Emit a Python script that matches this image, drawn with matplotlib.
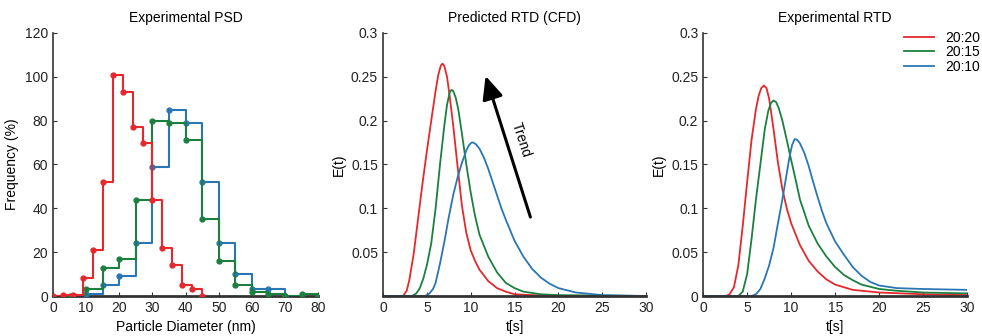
import matplotlib.pyplot as plt

plt.rcParams['font.family'] = ['Liberation Sans', 'DejaVu Sans']
plt.rcParams['font.size'] = 10

red = '#e5282c'
green = '#1b803f'
blue = '#2a76b3'

# Experimental PSD (step data, left edges)
psd_red_x = [0, 3, 6, 9, 12, 15, 18, 21, 24, 27, 30, 33, 36, 39, 42, 45]
psd_red_y = [0, 0.5, 0.5, 8, 21, 52, 101, 93, 77, 70, 44, 22, 14, 5, 3, 0]
psd_green_x = [5, 10, 15, 20, 25, 30, 35, 40, 45, 50, 55, 60, 65, 70, 75, 80]
psd_green_y = [0, 3, 13, 17, 44, 80, 79, 71, 35, 16, 5, 2, 1, 0, 1, 0]
psd_blue_x = [10, 15, 20, 25, 30, 35, 40, 45, 50, 55, 60, 65, 70]
psd_blue_y = [1, 5, 9, 24, 59, 85, 79, 52, 24, 10, 3, 3, 0]

# Predicted RTD (CFD)
cfd_red_t = [0, 2.3, 2.7, 3, 3.5, 4, 4.5, 5, 5.5, 6, 6.3, 6.6, 6.8, 7, 7.3, 7.6, 8, 8.5,
             9, 9.5, 10, 10.5, 11, 12, 13, 14, 15, 17, 20, 30]
cfd_red_e = [0, 0, 0.006, 0.018, 0.048, 0.088, 0.128, 0.165, 0.2, 0.234, 0.252, 0.263,
             0.265, 0.262, 0.25, 0.228, 0.195, 0.148, 0.103, 0.072, 0.052, 0.04, 0.03,
             0.017, 0.009, 0.005, 0.002, 0.001, 0, 0]
cfd_green_t = [0, 3.3, 3.8, 4.2, 4.6, 5, 5.5, 6, 6.5, 7, 7.3, 7.6, 7.8, 8, 8.3, 8.6, 9,
               9.5, 10, 10.5, 11, 12, 13, 14, 15, 16, 18, 20, 30]
cfd_green_e = [0, 0, 0.003, 0.009, 0.02, 0.035, 0.06, 0.1, 0.15, 0.195, 0.218, 0.232,
               0.235, 0.234, 0.226, 0.212, 0.185, 0.15, 0.118, 0.091, 0.07, 0.045, 0.027,
               0.015, 0.009, 0.005, 0.002, 0.001, 0]
cfd_blue_t = [0, 4.8, 5.3, 5.7, 6, 6.5, 7, 7.5, 8, 8.5, 9, 9.5, 9.8, 10.1, 10.3, 10.6,
              11, 11.5, 12, 12.5, 13, 13.5, 14, 15, 16, 17, 18, 19, 20, 22, 25, 30]
cfd_blue_e = [0, 0, 0.003, 0.008, 0.015, 0.037, 0.062, 0.09, 0.115, 0.135, 0.152, 0.166,
              0.172, 0.175, 0.175, 0.173, 0.168, 0.158, 0.145, 0.13, 0.115, 0.1, 0.087,
              0.063, 0.045, 0.031, 0.021, 0.014, 0.009, 0.004, 0.001, 0]

# Experimental RTD
exp_red_t = [0, 2.6, 3, 3.5, 4, 4.5, 5, 5.5, 6, 6.3, 6.6, 6.9, 7.2, 7.5, 8, 8.5, 9, 9.5,
             10, 11, 12, 13, 14, 15, 17, 20, 25, 30]
exp_red_e = [0, 0, 0.002, 0.01, 0.035, 0.08, 0.13, 0.178, 0.213, 0.228, 0.237, 0.24,
             0.237, 0.225, 0.19, 0.152, 0.122, 0.1, 0.083, 0.058, 0.04, 0.028, 0.019,
             0.013, 0.007, 0.004, 0.002, 0.001]
exp_green_t = [0, 4, 4.5, 5, 5.5, 6, 6.5, 7, 7.4, 7.7, 8, 8.3, 8.6, 9, 9.5, 10, 10.5, 11,
               12, 13, 14, 15, 16, 17, 18, 20, 22, 25, 30]
exp_green_e = [0, 0, 0.005, 0.025, 0.065, 0.11, 0.15, 0.19, 0.211, 0.22, 0.223, 0.221,
               0.214, 0.2, 0.178, 0.155, 0.133, 0.11, 0.08, 0.06, 0.045, 0.033, 0.024,
               0.018, 0.013, 0.008, 0.006, 0.004, 0.003]
exp_blue_t = [0, 5.5, 6, 6.5, 7, 7.5, 8, 8.5, 9, 9.5, 9.8, 10.1, 10.4, 10.7, 11, 11.5, 12,
              12.5, 13, 13.5, 14, 15, 16, 17, 18, 19, 20, 22, 25, 30]
exp_blue_e = [0, 0, 0.002, 0.008, 0.02, 0.035, 0.055, 0.083, 0.11, 0.14, 0.158, 0.172,
              0.179, 0.178, 0.174, 0.163, 0.148, 0.13, 0.113, 0.097, 0.083, 0.062, 0.047,
              0.033, 0.023, 0.016, 0.012, 0.009, 0.008, 0.007]

labels = ['20:20', '20:15', '20:10']


def style_axes(ax):
    for s in ['top', 'right']:
        ax.spines[s].set_visible(False)
    ax.spines['left'].set_color('#333333')
    ax.spines['bottom'].set_color('#333333')
    ax.spines['left'].set_linewidth(1.2)
    ax.spines['bottom'].set_linewidth(2)
    ax.tick_params(direction='in', length=3, width=0.8, colors='#333333',
                   labelcolor='#222222', labelsize=10)


fig = plt.figure(figsize=(9.82, 3.36), dpi=100)
ax1 = fig.add_axes([0.054, 0.119, 0.270, 0.783])
ax2 = fig.add_axes([0.390, 0.119, 0.268, 0.783])
ax3 = fig.add_axes([0.716, 0.119, 0.269, 0.783])

# panel 1
for x, y, c in [(psd_blue_x, psd_blue_y, blue), (psd_green_x, psd_green_y, green),
                (psd_red_x, psd_red_y, red)]:
    ax1.step(x, y, where='post', color=c, lw=1.5, marker='o', ms=3.5, zorder=3)
ax1.set_xlim(0, 80)
ax1.set_ylim(0, 120)
ax1.set_xticks(range(0, 81, 10))
ax1.set_yticks(range(0, 121, 20))
ax1.set_title('Experimental PSD', fontsize=10, pad=8)
ax1.set_xlabel('Particle Diameter (nm)', fontsize=10)
ax1.set_ylabel('Frequency (%)', fontsize=10)
style_axes(ax1)

# panel 2
for t, e, c in [(cfd_red_t, cfd_red_e, red), (cfd_green_t, cfd_green_e, green),
                (cfd_blue_t, cfd_blue_e, blue)]:
    ax2.plot(t, e, color=c, lw=1.3)
ax2.set_xlim(0, 30)
ax2.set_ylim(0, 0.3)
ax2.set_xticks(range(0, 31, 5))
ax2.set_yticks([0.05, 0.1, 0.15, 0.2, 0.25, 0.3])
ax2.set_yticklabels(['0.05', '0.1', '0.15', '0.2', '0.25', '0.3'])
ax2.set_title('Predicted RTD (CFD)', fontsize=10, pad=8)
ax2.set_xlabel('t[s]', fontsize=10)
ax2.set_ylabel('E(t)', fontsize=10)
ax2.annotate('', xy=(11.6, 0.254), xytext=(16.9, 0.087),
             arrowprops=dict(arrowstyle='-|>,head_width=0.45,head_length=1.0',
                             color='black', lw=2.2, mutation_scale=14))
ax2.text(15.7, 0.178, 'Trend', rotation=-72, ha='center', va='center', fontsize=10)
style_axes(ax2)

# panel 3
lines = []
for t, e, c, lab in [(exp_red_t, exp_red_e, red, labels[0]),
                     (exp_green_t, exp_green_e, green, labels[1]),
                     (exp_blue_t, exp_blue_e, blue, labels[2])]:
    ln, = ax3.plot(t, e, color=c, lw=1.3, label=lab)
    lines.append(ln)
ax3.set_xlim(0, 30)
ax3.set_ylim(0, 0.3)
ax3.set_xticks(range(0, 31, 5))
ax3.set_yticks([0, 0.05, 0.1, 0.15, 0.2, 0.25, 0.3])
ax3.set_yticklabels(['0', '0.05', '0.1', '0.15', '0.2', '0.25', '0.3'])
ax3.set_title('Experimental RTD', fontsize=10, pad=8)
ax3.set_xlabel('t[s]', fontsize=10)
ax3.set_ylabel('E(t)', fontsize=10)
ax3.legend(handles=lines, loc='upper right', bbox_to_anchor=(1.07, 1.03), frameon=False,
           fontsize=10, handlelength=2.2, labelspacing=0.05, borderaxespad=0)
style_axes(ax3)

fig.savefig('out.png', dpi=100)
